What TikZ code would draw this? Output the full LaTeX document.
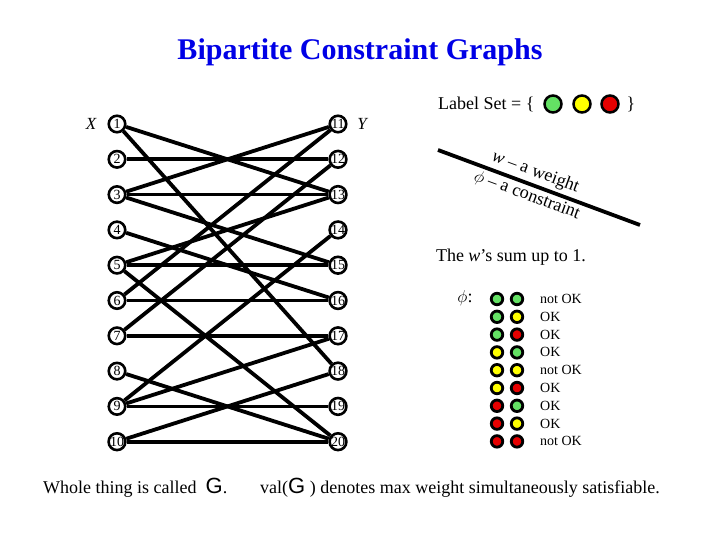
\documentclass[tikz,border=0pt]{standalone}
\usepackage{fontspec}
\setmainfont{Liberation Serif}
\newfontfamily\gfont{Liberation Sans}
\usetikzlibrary{positioning,backgrounds}
\definecolor{titleblue}{RGB}{0,0,230}
\definecolor{lgreen}{RGB}{100,225,100}
\definecolor{lyellow}{RGB}{255,255,0}
\definecolor{lred}{RGB}{230,0,0}
\newcommand{\bigG}{{\gfont\fontsize{22}{24}\selectfont G}}

\begin{document}
\begin{tikzpicture}[x=1pt, y=-1pt,
    vert/.style={circle, draw, line width=2.6pt, fill=white, minimum size=16.5pt, inner sep=0pt, font=\fontsize{14}{14}\selectfont},
    edge/.style={line width=3.8pt},
    dot/.style={circle, draw, line width=2.5pt, minimum size=17pt, inner sep=0pt},
    sdot/.style={circle, draw, line width=2.8pt, minimum size=11.5pt, inner sep=0pt},
    txt/.style={font=\fontsize{18}{20}\selectfont, inner sep=0pt},
    node distance=35.3pt and 221pt, on grid
]
    \path[use as bounding box] (0,0) rectangle (720,540);

    % Title
    \node[font=\fontsize{30}{32}\selectfont\bfseries, text=titleblue] (title) at (360,52) {Bipartite Constraint Graphs};

    % Left side X
    \node[vert] (x1) at (117,124) {1};
    \node[vert, below=of x1] (x2) {2};
    \node[vert, below=of x2] (x3) {3};
    \node[vert, below=of x3] (x4) {4};
    \node[vert, below=of x4] (x5) {5};
    \node[vert, below=of x5] (x6) {6};
    \node[vert, below=of x6] (x7) {7};
    \node[vert, below=of x7] (x8) {8};
    \node[vert, below=of x8] (x9) {9};
    \node[vert, below=of x9] (x10) {10};
    \node[font=\fontsize{17}{17}\selectfont\itshape, left=26pt of x1] (xlab) {X};

    % Right side Y
    \node[vert, right=of x1] (y11) {11};
    \node[vert, below=of y11] (y12) {12};
    \node[vert, below=of y12] (y13) {13};
    \node[vert, below=of y13] (y14) {14};
    \node[vert, below=of y14] (y15) {15};
    \node[vert, below=of y15] (y16) {16};
    \node[vert, below=of y16] (y17) {17};
    \node[vert, below=of y17] (y18) {18};
    \node[vert, below=of y18] (y19) {19};
    \node[vert, below=of y19] (y20) {20};
    \node[font=\fontsize{17}{17}\selectfont\itshape, right=24pt of y11] (ylab) {Y};

    % Edges
    \begin{scope}[on background layer]
    \draw[edge] (x1) -- (y13);
    \draw[edge] (x1) -- (y18);
    \draw[edge] (x2) -- (y12);
    \draw[edge] (x3) -- (y11);
    \draw[edge] (x3) -- (y13);
    \draw[edge] (x3) -- (y15);
    \draw[edge] (x4) -- (y16);
    \draw[edge] (x5) -- (y13);
    \draw[edge] (x5) -- (y15);
    \draw[edge] (x5) -- (y20);
    \draw[edge] (x6) -- (y11);
    \draw[edge] (x6) -- (y16);
    \draw[edge] (x7) -- (y12);
    \draw[edge] (x7) -- (y17);
    \draw[edge] (x8) -- (y20);
    \draw[edge] (x9) -- (y14);
    \draw[edge] (x9) -- (y17);
    \draw[edge] (x9) -- (y19);
    \draw[edge] (x10) -- (y18);
    \draw[edge] (x10) -- (y20);
    \end{scope}

    % Label set
    \node[txt, anchor=west] (lset) at (438,104) {Label Set = \{};
    \node[dot, fill=lgreen] (lg) at (553,104) {};
    \node[dot, fill=lyellow] (ly) at (582,104) {};
    \node[dot, fill=lred] (lr) at (610,104) {};
    \node[txt] (rbrace) at (631,104) {\}};

    % Weight / constraint line
    \coordinate (wa) at (438,150);
    \coordinate (wb) at (640,225);
    \draw[edge] (wa) -- (wb)
        node[pos=0.46, sloped, above, inner sep=3pt, font=\fontsize{18}{18}\selectfont] (wtxt) {\textit{w} -- a weight}
        node[pos=0.46, sloped, below, inner sep=2pt, font=\fontsize{18}{18}\selectfont] (ctxt) {$\phi$ -- a constraint};

    \node[txt] (wsum) at (511,257) {The \textit{w}'s sum up to 1.};

    % Constraint table
    \node[txt] (phi) at (465,298) {$\phi$:};
    \foreach \ca/\cb/\ok [count=\i] in {lgreen/lgreen/not OK, lgreen/lyellow/OK, lgreen/lred/OK,
        lyellow/lgreen/OK, lyellow/lyellow/not OK, lyellow/lred/OK,
        lred/lgreen/OK, lred/lyellow/OK, lred/lred/not OK} {
        \node[sdot, fill=\ca] (pa\i) at (497, 281.2+17.8*\i) {};
        \node[sdot, fill=\cb] (pb\i) at (517, 281.2+17.8*\i) {};
        \node[anchor=west, inner sep=0pt, font=\fontsize{14}{14}\selectfont] (ok\i) at (540, 281.2+17.8*\i) {\ok};
    }

    % Bottom
    \node[txt, anchor=west] (whole) at (43,488) {Whole thing is called\ \ \bigG.};
    \node[txt, anchor=west] (val) at (260,488) {val(\bigG\ ) denotes max weight simultaneously satisfiable.};
\end{tikzpicture}
\end{document}
